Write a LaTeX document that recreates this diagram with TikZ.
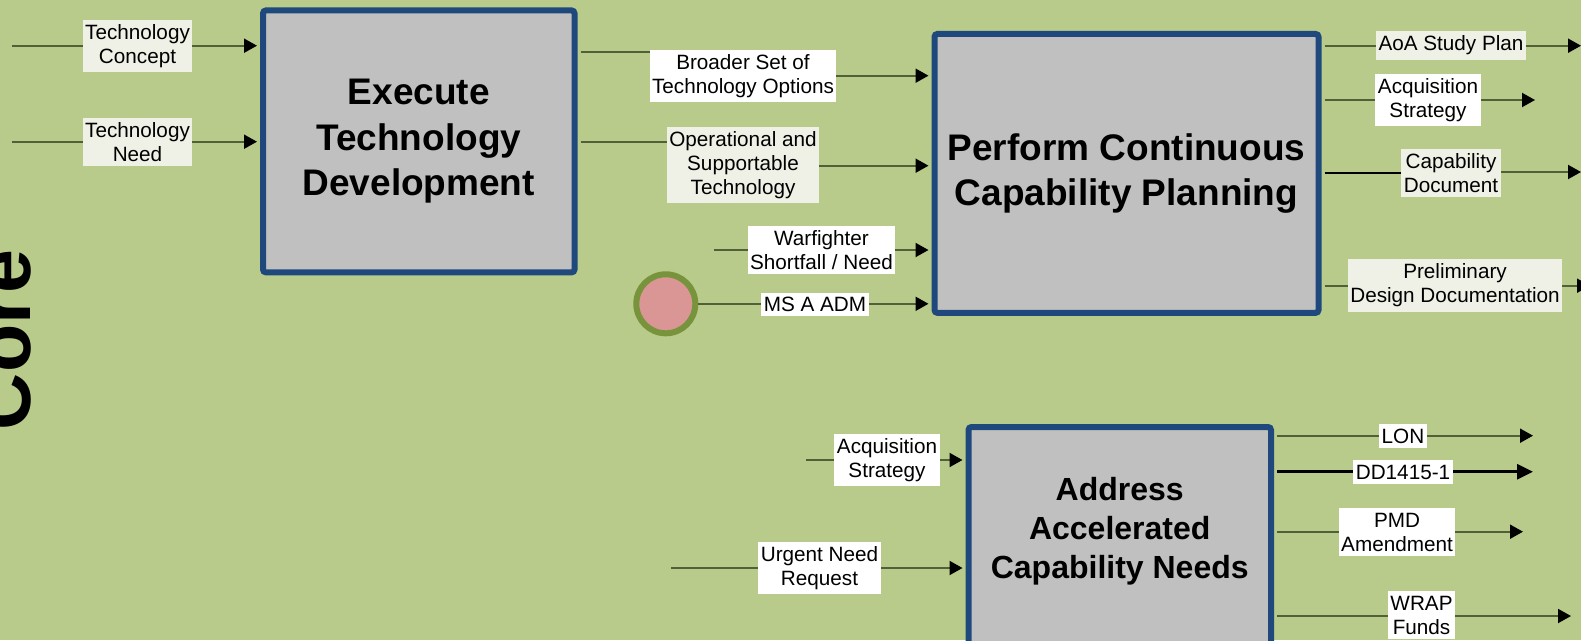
\documentclass[tikz,border=0pt]{standalone}
\usepackage{fontspec}
\setmainfont{Liberation Sans}
\usetikzlibrary{arrows.meta}

\definecolor{bggreen}{RGB}{184,203,138}
\definecolor{boxgray}{RGB}{192,192,192}
\definecolor{boxblue}{RGB}{31,73,125}
\definecolor{linegreen}{RGB}{80,96,56}
\definecolor{labelcream}{RGB}{239,241,230}
\definecolor{dotpink}{RGB}{217,150,148}
\definecolor{dotgreen}{RGB}{119,147,60}

\begin{document}
\begin{tikzpicture}[x=1pt, y=-1pt,
  flow/.style={line width=2pt, draw=linegreen, -{Triangle[length=13pt,width=14pt,color=black]}},
  frombox/.style={shorten <=3pt},
  tobox/.style={shorten >=3pt},
  lbl/.style={fill=white, inner xsep=2.5pt, inner ysep=4.5pt,
    align=center, font=\fontsize{20.7}{24}\selectfont},
  lblc/.style={lbl, fill=labelcream},
  task/.style={draw=boxblue, line width=6pt, fill=boxgray, rounded corners=3pt, align=center,
    font=\bfseries\fontsize{37}{45.4}\selectfont}]

% Background
\useasboundingbox (0,0) rectangle (1581,640);
\clip (0,0) rectangle (1581,640);
\fill[bggreen] (0,0) rectangle (1581,640);

\node[rotate=90, anchor=base, font=\bfseries\fontsize{79}{79}\selectfont] (core) at (30,340) {Core};

% Boxes
\node[task, minimum width=311.5pt, minimum height=262pt] (etd) at (418.75,141.4)
{Execute\\Technology\\Development};
\node[task, minimum width=384pt, minimum height=279pt] (pccp) at (1126.5,173.4)
{Perform Continuous\\Capability Planning};
\node[task, anchor=north, minimum width=302.5pt, minimum height=260pt] (aacn) at (1119.75,424) {};
\node[align=center, font=\bfseries\fontsize{32}{38.8}\selectfont] (aacn-text) at (1119.75,531)
{Address\\Accelerated\\Capability Needs};

% Milestone
\node[circle, draw=dotgreen, line width=6pt, fill=dotpink, minimum size=59pt, inner sep=0pt] (msdot) at (665.8,303.8) {};

% Free ends
\coordinate (tconc-in) at (12,45.7);
\coordinate (tneed-in) at (12,141.7);
\coordinate (bso-a)    at (743,51.7);
\coordinate (bso-b)    at (743,75.7);
\coordinate (ost-a)    at (743,141.7);
\coordinate (ost-b)    at (743,165.7);
\coordinate (wsn-in)   at (714,250);
\coordinate (aoa-out)  at (1581,45.7);
\coordinate (acq-out)  at (1535,100);
\coordinate (cd-a)     at (1451,173);
\coordinate (cd-b)     at (1451,172);
\coordinate (cd-out)   at (1581,172);
\coordinate (pdd-out)  at (1590,285.7);
\coordinate (acq2-in)  at (806,460);
\coordinate (unr-in)   at (671,568);
\coordinate (lon-out)  at (1533,435.7);
\coordinate (dd-out)   at (1533,471.7);
\coordinate (pmd-out)  at (1523,531.7);
\coordinate (wrap-out) at (1571,616);

% Into Execute Technology Development
\draw[flow, tobox] (tconc-in) -- (etd.west |- tconc-in);
\draw[flow, tobox] (tneed-in) -- (etd.west |- tneed-in);

% Into Perform Continuous Capability Planning
\draw[flow, frombox, tobox] (etd.east |- bso-a) -- (bso-a) -- (bso-b) -- (pccp.west |- bso-b);
\draw[flow, frombox, tobox] (etd.east |- ost-a) -- (ost-a) -- (ost-b) -- (pccp.west |- ost-b);
\draw[flow, tobox] (wsn-in) -- (pccp.west |- wsn-in);
\draw[flow, tobox] (msdot.east) -- (pccp.west |- msdot.east);

% Out of Perform Continuous Capability Planning
\draw[flow, frombox] (pccp.east |- aoa-out) -- (aoa-out);
\draw[flow, frombox] (pccp.east |- acq-out) -- (acq-out);
\draw[line width=1.2pt, frombox] (pccp.east |- cd-a) -- (cd-a);
\draw[flow] (cd-b) -- (cd-out);
\draw[flow, frombox] (pccp.east |- pdd-out) -- (pdd-out);

% Into Address Accelerated Capability Needs
\draw[flow, tobox] (acq2-in) -- (aacn.west |- acq2-in);
\draw[flow, tobox] (unr-in) -- (aacn.west |- unr-in);

% Out of Address Accelerated Capability Needs
\draw[flow, frombox] (aacn.east |- lon-out) -- (lon-out);
\draw[flow, frombox, draw=black, line width=3pt, -{Triangle[length=16pt,width=15pt]}] (aacn.east |- dd-out) -- (dd-out);
\draw[flow, frombox] (aacn.east |- pmd-out) -- (pmd-out);
\draw[flow, frombox] (aacn.east |- wrap-out) -- (wrap-out);

% Labels
\node[lblc] (tconc) at (137.5,46)  {Technology\\Concept};
\node[lblc] (tneed) at (137.5,142) {Technology\\Need};
\node[lbl]  (bso)   at (743,76)    {Broader Set of\\Technology Options};
\node[lblc] (ost)   at (743,165)   {Operational and\\Supportable\\Technology};
\node[lbl]  (wsn)   at (821.5,250) {Warfighter\\Shortfall / Need};
\node[lbl]  (msa)   at (815,304.5) {MS A ADM};
\node[lblc] (aoa)   at (1451,45.5) {AoA Study Plan};
\node[lbl]  (acq)   at (1428,100)  {Acquisition\\Strategy};
\node[lblc] (cd)    at (1451,173)  {Capability\\Document};
\node[lblc] (pdd)   at (1455,285.5) {Preliminary\\Design Documentation};
\node[lbl]  (acq2)  at (887,460)   {Acquisition\\Strategy};
\node[lbl]  (unr)   at (819.5,568) {Urgent Need\\Request};
\node[lbl]  (lon)   at (1403,436)  {LON};
\node[lbl]  (dd)    at (1403,472)  {DD1415-1};
\node[lbl]  (pmd)   at (1397,532)  {PMD\\Amendment};
\node[lbl]  (wrap)  at (1421.5,615) {WRAP\\Funds};

\end{tikzpicture}
\end{document}
